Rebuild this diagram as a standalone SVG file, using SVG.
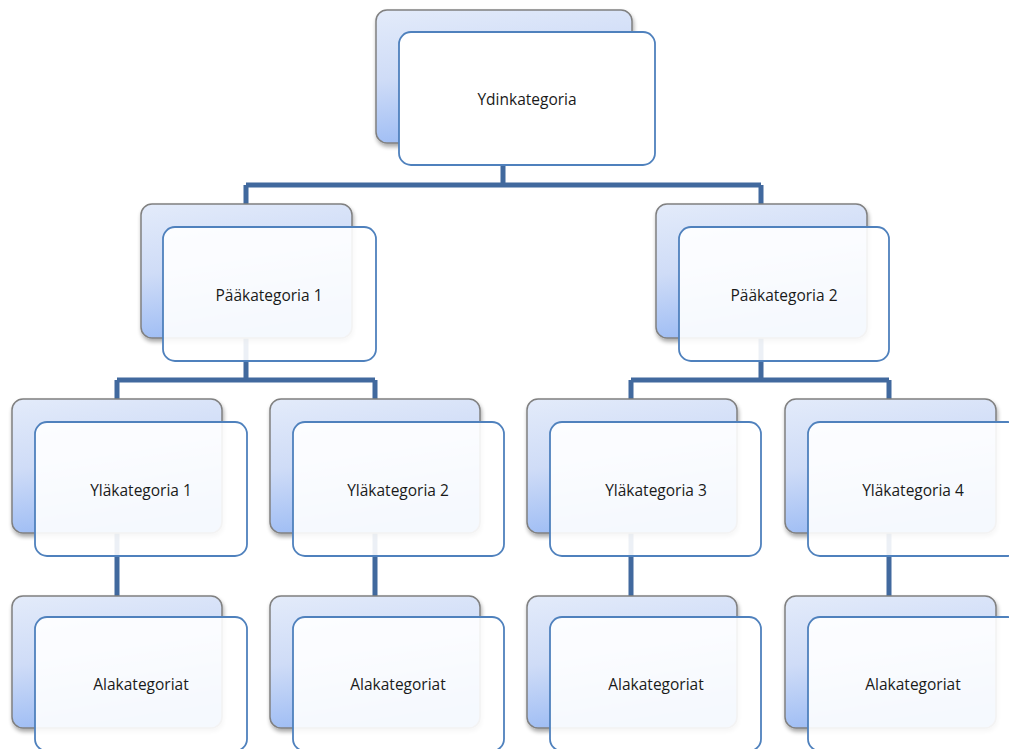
<svg xmlns="http://www.w3.org/2000/svg" width="1009" height="749" viewBox="0 0 1009 749">
<defs>
<linearGradient id="bg" x1="0" y1="0" x2="0.25" y2="1">
<stop offset="0" stop-color="#e3ebfa"/>
<stop offset="0.5" stop-color="#cfdcf7"/>
<stop offset="1" stop-color="#9dbcf4"/>
</linearGradient>
<filter id="sh" x="-10%" y="-10%" width="125%" height="125%">
<feGaussianBlur in="SourceAlpha" stdDeviation="2"/>
<feOffset dx="1" dy="3"/>
<feComponentTransfer><feFuncA type="linear" slope="0.35"/></feComponentTransfer>
<feMerge><feMergeNode/><feMergeNode in="SourceGraphic"/></feMerge>
</filter>
</defs>
<style>
.back{fill:url(#bg);stroke:#808080;stroke-width:1.5;filter:url(#sh)}
.front{fill:#ffffff;fill-opacity:0.9;stroke:#4f81bd;stroke-width:1.8}
.top{fill-opacity:1}
.lbl{font-family:"Open Sans","Liberation Sans",sans-serif;font-size:15.5px;fill:#1a1a1a;text-anchor:middle;dominant-baseline:central}
.c{fill:none;stroke:#41699e;stroke-width:5}
</style>
<rect width="1009" height="749" fill="#ffffff"/>
<g id="connectors">
<path class="c" d="M503 165V185M246 185H761M246 185V204M761 185V204"/>
<path class="c" d="M246 361V380M117 380H375M117 380V399M375 380V399"/>
<path class="c" d="M761 361V380M631 380H889M631 380V399M889 380V399"/>
<path class="c" d="M117 520V596M375 520V596M631 520V596M889 520V596"/>
<path class="c" d="M246 330V361M761 330V361"/>
</g>
<g id="n0">
<rect class="back" x="376" y="10" width="256" height="133" rx="11"/>
<rect class="front top" x="399" y="32" width="256" height="133" rx="12"/>
<text class="lbl" x="527" y="99">Ydinkategoria</text>
</g>
<g id="n1">
<rect class="back" x="141" y="204" width="211" height="134" rx="11"/>
<rect class="front" x="163" y="227" width="213" height="134" rx="12"/>
<text class="lbl" x="269" y="295">Pääkategoria 1</text>
</g>
<g id="n2">
<rect class="back" x="656" y="204" width="211" height="134" rx="11"/>
<rect class="front" x="679" y="227" width="210" height="134" rx="12"/>
<text class="lbl" x="784" y="295">Pääkategoria 2</text>
</g>
<g id="n3">
<rect class="back" x="12" y="399" width="210" height="134" rx="11"/>
<rect class="front" x="35" y="422" width="212" height="134" rx="12"/>
<text class="lbl" x="141" y="490">Yläkategoria 1</text>
</g>
<g id="n4">
<rect class="back" x="270" y="399" width="210" height="134" rx="11"/>
<rect class="front" x="293" y="422" width="211" height="134" rx="12"/>
<text class="lbl" x="398" y="490">Yläkategoria 2</text>
</g>
<g id="n5">
<rect class="back" x="527" y="399" width="210" height="134" rx="11"/>
<rect class="front" x="550" y="422" width="211" height="134" rx="12"/>
<text class="lbl" x="656" y="490">Yläkategoria 3</text>
</g>
<g id="n6">
<rect class="back" x="785" y="399" width="211" height="134" rx="11"/>
<rect class="front" x="808" y="422" width="212" height="134" rx="12"/>
<text class="lbl" x="913" y="490">Yläkategoria 4</text>
</g>
<g id="n7">
<rect class="back" x="12" y="596" width="210" height="132" rx="11"/>
<rect class="front" x="35" y="617" width="212" height="134" rx="12"/>
<text class="lbl" x="141" y="684">Alakategoriat</text>
</g>
<g id="n8">
<rect class="back" x="270" y="596" width="210" height="132" rx="11"/>
<rect class="front" x="293" y="617" width="211" height="134" rx="12"/>
<text class="lbl" x="398" y="684">Alakategoriat</text>
</g>
<g id="n9">
<rect class="back" x="527" y="596" width="210" height="132" rx="11"/>
<rect class="front" x="550" y="617" width="211" height="134" rx="12"/>
<text class="lbl" x="656" y="684">Alakategoriat</text>
</g>
<g id="n10">
<rect class="back" x="785" y="596" width="211" height="132" rx="11"/>
<rect class="front" x="808" y="617" width="212" height="134" rx="12"/>
<text class="lbl" x="913" y="684">Alakategoriat</text>
</g>
</svg>
